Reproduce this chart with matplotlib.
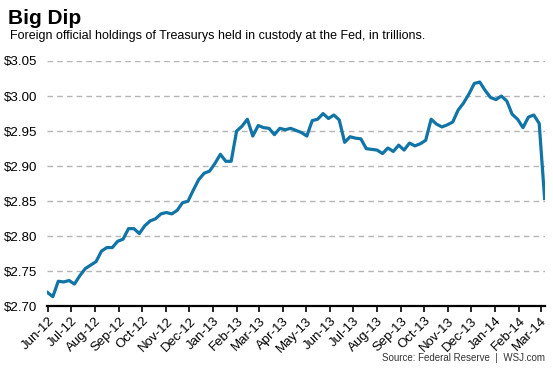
import numpy as np
import pandas as pd
import matplotlib
matplotlib.use("Agg")
import matplotlib.pyplot as plt
import matplotlib.dates as mdates

plt.rcParams['font.family'] = ['Liberation Sans', 'DejaVu Sans']

# weekly readings, trillions of dollars
holdings = [2.720, 2.714, 2.736, 2.735, 2.737, 2.732, 2.744, 2.754, 2.759, 2.764,
            2.779, 2.784, 2.784, 2.793, 2.796, 2.811, 2.811, 2.804, 2.815, 2.822,
            2.825, 2.832, 2.834, 2.832, 2.837, 2.848, 2.850, 2.866, 2.881, 2.890,
            2.893, 2.904, 2.917, 2.907, 2.907, 2.950, 2.957, 2.967, 2.943, 2.958,
            2.955, 2.954, 2.945, 2.954, 2.952, 2.954, 2.951, 2.948, 2.943, 2.965,
            2.967, 2.975, 2.968, 2.973, 2.966, 2.934, 2.942, 2.940, 2.939, 2.925,
            2.924, 2.923, 2.918, 2.926, 2.921, 2.930, 2.923, 2.933, 2.929, 2.932,
            2.937, 2.967, 2.960, 2.956, 2.959, 2.963, 2.980, 2.990, 3.003, 3.018,
            3.020, 3.008, 2.998, 2.995, 3.000, 2.993, 2.974, 2.967, 2.955, 2.970,
            2.973, 2.961, 2.854]
dates = pd.date_range('2012-05-31', periods=len(holdings), freq='7D')

y_ticks = [2.70, 2.75, 2.80, 2.85, 2.90, 2.95, 3.00, 3.05]
month_ticks = pd.date_range('2012-06-01', '2014-03-01', freq='MS')

line_col = '#1174a6'

fig = plt.figure(figsize=(5.53, 3.69), dpi=100)
ax = fig.add_axes([0.0844, 0.1694, 0.9011, 0.6653])

ax.plot(dates, holdings, color=line_col, lw=2.3, solid_joinstyle='round', zorder=3)

ax.set_ylim(2.70, 3.05)
ax.set_xlim(dates[0] - pd.Timedelta(days=1), dates[-1] + pd.Timedelta(days=0.5))
ax.set_yticks(y_ticks)
ax.set_yticklabels(['$%.2f' % v for v in y_ticks], fontsize=9.6)
ax.yaxis.grid(True, color='#b4b4b4', ls=(0, (4, 3)), lw=1.0)
ax.tick_params(axis='y', length=0, pad=7)

ax.set_xticks(month_ticks)
ax.xaxis.set_major_formatter(mdates.DateFormatter('%b-%y'))
ax.tick_params(axis='x', length=4, width=1.2, color='black', direction='out', pad=2)
for lbl in ax.get_xticklabels():
    lbl.set_rotation(45)
    lbl.set_ha('right')
    lbl.set_rotation_mode('anchor')
    lbl.set_fontsize(9.5)

for s in ['top', 'right', 'left']:
    ax.spines[s].set_visible(False)
ax.spines['bottom'].set_linewidth(1.6)

fig.text(0.014, 0.935, 'Big Dip', fontsize=15, fontweight='bold', va='baseline')
fig.text(0.018, 0.893, 'Foreign official holdings of Treasurys held in custody at the Fed, in trillions.',
         fontsize=9, va='baseline')
fig.text(0.985, 0.022, 'Source: Federal Reserve  |  WSJ.com', fontsize=7, color='#333333',
         ha='right', va='baseline')

fig.savefig('out.png', dpi=100)
